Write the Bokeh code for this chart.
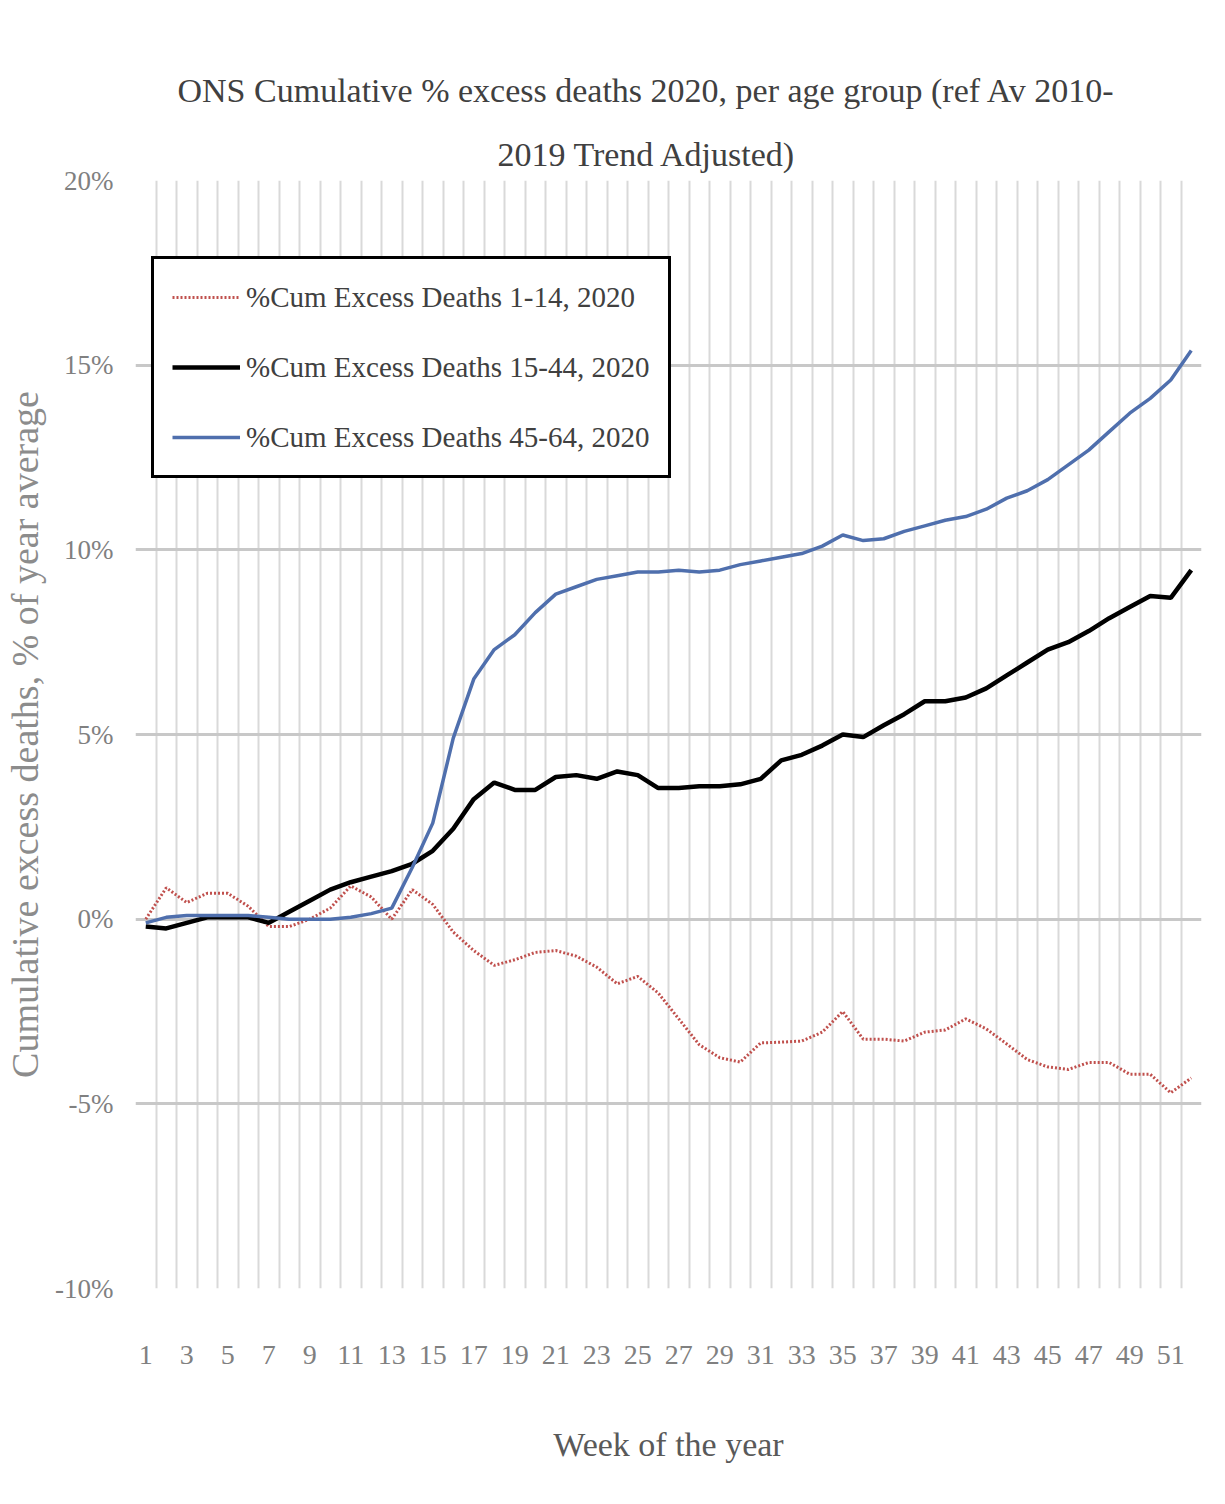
from bokeh.plotting import figure
from bokeh.models import (FixedTicker, PrintfTickFormatter, Legend, LegendItem,
                          Title, Range1d)
from bokeh.embed import file_html
from bokeh.resources import INLINE

weeks = list(range(1, 53))
red_1_14 = [0.0, 0.85, 0.45, 0.7, 0.7, 0.35, -0.2, -0.2, 0.0, 0.3,
            0.9, 0.6, 0.0, 0.8, 0.4, -0.35, -0.85, -1.25, -1.1, -0.9,
            -0.85, -1.0, -1.3, -1.75, -1.55, -2.0, -2.7, -3.4, -3.75, -3.87,
            -3.35, -3.33, -3.3, -3.06, -2.5, -3.25, -3.25, -3.3, -3.06, -3.0,
            -2.7, -2.97, -3.38, -3.8, -4.0, -4.07, -3.88, -3.88, -4.2, -4.2,
            -4.7, -4.3]
black_15_44 = [-0.2, -0.25, -0.1, 0.05, 0.05, 0.05, -0.1, 0.2, 0.5, 0.8,
               1.0, 1.15, 1.3, 1.5, 1.85, 2.45, 3.25, 3.7, 3.5, 3.5,
               3.85, 3.9, 3.8, 4.0, 3.9, 3.55, 3.55, 3.6, 3.6, 3.65,
               3.8, 4.3, 4.45, 4.7, 5.0, 4.93, 5.25, 5.55, 5.9, 5.9,
               6.0, 6.25, 6.6, 6.95, 7.3, 7.5, 7.8, 8.15, 8.45, 8.75,
               8.7, 9.45]
blue_45_64 = [-0.1, 0.05, 0.1, 0.1, 0.1, 0.1, 0.05, 0.0, 0.0, 0.0,
              0.05, 0.15, 0.3, 1.4, 2.6, 4.9, 6.5, 7.3, 7.7, 8.3,
              8.8, 9.0, 9.2, 9.3, 9.4, 9.4, 9.45, 9.4, 9.45, 9.6,
              9.7, 9.8, 9.9, 10.1, 10.4, 10.25, 10.3, 10.5, 10.65, 10.8,
              10.9, 11.1, 11.4, 11.6, 11.9, 12.3, 12.7, 13.2, 13.7, 14.1,
              14.6, 15.4]
series_names = ["%Cum Excess Deaths 1-14, 2020",
                "%Cum Excess Deaths 15-44, 2020",
                "%Cum Excess Deaths 45-64, 2020"]
x_tick_labels = list(range(1, 53, 2))
y_ticks = [-10, -5, 0, 5, 10, 15, 20]
title_lines = ["ONS Cumulative % excess deaths 2020, per age group (ref Av 2010-",
               "2019 Trend Adjusted)"]

FONT = "Liberation Serif"

p = figure(width=1209, height=1488, output_backend="svg", toolbar_location=None,
           x_range=Range1d(0.5, 52.5), y_range=Range1d(-10, 20),
           min_border_left=135, min_border_right=8, min_border_top=180,
           min_border_bottom=200)
p.outline_line_color = None
p.background_fill_color = "white"
p.border_fill_color = "white"
p.title.visible = False

# grids
p.xgrid.ticker = FixedTicker(ticks=[w + 0.5 for w in range(0, 53)])
p.xgrid.grid_line_color = "#d9d9d9"
p.xgrid.grid_line_width = 2
p.ygrid.ticker = FixedTicker(ticks=y_ticks)
p.ygrid.grid_line_color = "#c8c8c8"
p.ygrid.grid_line_width = 3

# axes
p.xaxis.ticker = FixedTicker(ticks=x_tick_labels)
p.yaxis.ticker = FixedTicker(ticks=y_ticks)
p.yaxis.formatter = PrintfTickFormatter(format="%d%%")
for ax in (p.xaxis[0], p.yaxis[0]):
    ax.axis_line_color = None
    ax.major_tick_line_color = None
    ax.minor_tick_line_color = None
    ax.major_tick_in = 0
    ax.major_tick_out = 0
    ax.minor_tick_in = 0
    ax.minor_tick_out = 0
    ax.major_label_text_font = FONT
    ax.major_label_text_color = "#808080"
    ax.axis_label_text_font = FONT
    ax.axis_label_text_font_style = "normal"
p.xaxis.major_label_text_font_size = "28px"
p.yaxis.major_label_text_font_size = "27px"
p.xaxis.major_label_standoff = 57
p.yaxis.major_label_standoff = 22
p.xaxis.axis_label = "Week of the year"
p.xaxis.axis_label_text_font_size = "34px"
p.xaxis.axis_label_text_color = "#595959"
p.xaxis.axis_label_standoff = 59
p.yaxis.axis_label = "Cumulative excess deaths, % of year average"
p.yaxis.axis_label_text_font_size = "38px"
p.yaxis.axis_label_text_color = "#8c8c8c"
p.yaxis.axis_label_standoff = 6

r1 = p.line(weeks, red_1_14, line_color="#c0504d", line_width=3, line_dash="2 2")
r2 = p.line(weeks, black_15_44, line_color="black", line_width=4.5)
r3 = p.line(weeks, blue_45_64, line_color="#4f6fad", line_width=3.5)

legend = Legend(items=[LegendItem(label=series_names[0], renderers=[r1]),
                       LegendItem(label=series_names[1], renderers=[r2]),
                       LegendItem(label=series_names[2], renderers=[r3])],
                location=(16, 810))
legend.border_line_color = "black"
legend.border_line_alpha = 1
legend.border_line_width = 3
legend.background_fill_color = "white"
legend.background_fill_alpha = 1
legend.label_text_font = FONT
legend.label_text_font_size = "29px"
legend.label_text_color = "#404040"
legend.glyph_width = 68
legend.glyph_height = 40
legend.label_height = 40
legend.spacing = 30
legend.padding = 18
legend.margin = 0
legend.label_standoff = 6
p.add_layout(legend, "center")

# title (two lines): first added sits closest to the plot
p.add_layout(Title(text=title_lines[1], align="left", offset=362, text_font=FONT,
                   text_font_size="34px", text_font_style="normal",
                   text_color="#404040", standoff=16), "above")
p.add_layout(Title(text=title_lines[0], align="left", offset=42, text_font=FONT,
                   text_font_size="34px", text_font_style="normal",
                   text_color="#404040", standoff=34), "above")

html = file_html(p, INLINE)
open("out.html", "w").write(html)
